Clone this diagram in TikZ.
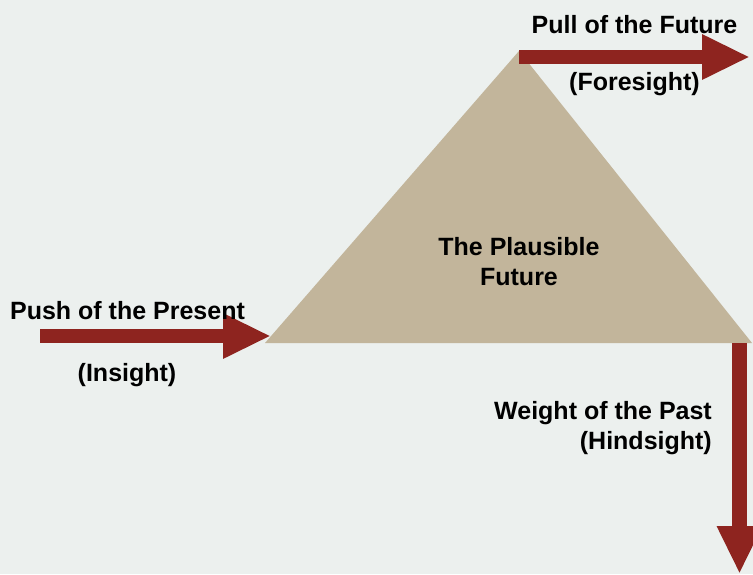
\documentclass[tikz,border=0pt]{standalone}
\usepackage{fontspec}
\setmainfont{Liberation Sans}
\usetikzlibrary{arrows.meta}
\definecolor{bg}{RGB}{236,240,238}
\definecolor{tri}{RGB}{194,181,155}
\definecolor{arr}{RGB}{142,36,31}
\tikzset{
  lbl/.style={font=\fontsize{25}{30}\selectfont\bfseries, text=black, inner sep=0pt},
  bigarrow/.style={draw=arr, line width=14.5pt, -{Triangle[length=48pt,width=42pt]}},
}
\begin{document}
\begin{tikzpicture}[x=1pt,y=-1pt]
\fill[bg] (0,0) rectangle (753,574);
\useasboundingbox (0,0) rectangle (753,574);
\fill[tri] (519,51) -- (265,343) -- (752,343) -- cycle;
\coordinate (apex) at (519,57);
\coordinate (topend) at (750,57);
\coordinate (lstart) at (40,336);
\coordinate (lend) at (271,336);
\coordinate (dstart) at (739.5,343);
\coordinate (dend) at (739.5,574);
\draw[bigarrow] (apex) -- (topend);
\draw[bigarrow] (lstart) -- (lend);
\draw[bigarrow] (dstart) -- (dend);
\node[lbl, anchor=base] (pull) at (634.5,33) {Pull of the Future};
\node[lbl, anchor=base] (fore) at (634.5,90) {(Foresight)};
\node[lbl, anchor=base] (push) at (127.5,319) {Push of the Present};
\node[lbl, anchor=base] (ins) at (127,381) {(Insight)};
\node[lbl, anchor=base] (plaus) at (519,255) {The Plausible};
\node[lbl, anchor=base] (fut) at (519,285) {Future};
\node[lbl, anchor=base east] (weight) at (712,419) {Weight of the Past};
\node[lbl, anchor=base east] (hind) at (712,449) {(Hindsight)};
\end{tikzpicture}
\end{document}
